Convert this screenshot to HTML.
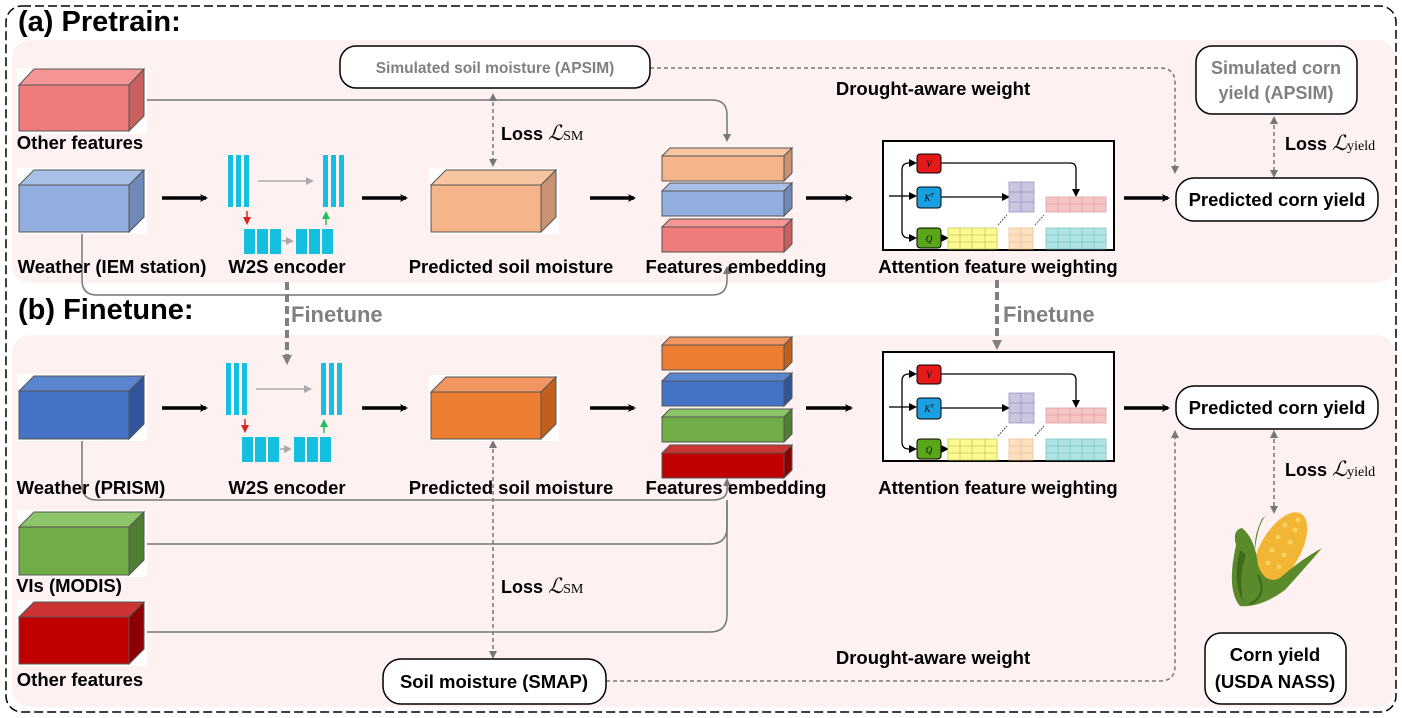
<!DOCTYPE html>
<html><head><meta charset="utf-8"><style>
body{margin:0;background:#fff}
svg{display:block;font-family:"Liberation Sans",sans-serif}
.l{font-weight:bold;font-size:18.5px;fill:#000;text-anchor:middle}
</style></head><body>
<svg width="1402" height="718" viewBox="0 0 1402 718">
<defs>
<marker id="ab" markerWidth="8" markerHeight="8" refX="6" refY="4" orient="auto" markerUnits="userSpaceOnUse"><path d="M0,0L8,4L0,8L2,4z" fill="#000"/></marker>
<marker id="ag" markerWidth="8" markerHeight="8" refX="6" refY="4" orient="auto-start-reverse" markerUnits="userSpaceOnUse"><path d="M0,0L8,4L0,8z" fill="#777"/></marker>
<marker id="ak" markerWidth="8" markerHeight="8" refX="6" refY="4" orient="auto" markerUnits="userSpaceOnUse"><path d="M0,0L8,4L0,8z" fill="#000"/></marker>
<marker id="ar" markerWidth="8" markerHeight="8" refX="6" refY="4" orient="auto" markerUnits="userSpaceOnUse"><path d="M0,0L8,4L0,8z" fill="#e02020"/></marker>
<marker id="agr" markerWidth="8" markerHeight="8" refX="6" refY="4" orient="auto" markerUnits="userSpaceOnUse"><path d="M0,0L8,4L0,8z" fill="#20c060"/></marker>
<marker id="agy" markerWidth="8" markerHeight="8" refX="6" refY="4" orient="auto" markerUnits="userSpaceOnUse"><path d="M0,0L8,4L0,8z" fill="#aaa"/></marker>
<marker id="af" markerWidth="10" markerHeight="10" refX="5" refY="5" orient="auto" markerUnits="userSpaceOnUse"><path d="M0,0L10,5L0,10z" fill="#808080"/></marker>
</defs>
<rect x="6" y="6" width="1390" height="706" rx="16" fill="#fff" stroke="#000" stroke-width="1.5" stroke-dasharray="9,4"/>
<rect x="12" y="40" width="1383" height="243" rx="18" fill="#fdf1f1"/>
<rect x="12" y="335" width="1383" height="372" rx="18" fill="#fdf1f1"/>
<text x="18" y="31" font-size="29" font-weight="bold">(a) Pretrain:</text>
<text x="18" y="319" font-size="29" font-weight="bold">(b) Finetune:</text>

<g fill="none" stroke="#777" stroke-width="1.5">
<path d="M145,100H712Q727,100 727,115V140" marker-end="url(#ag)"/>
<path d="M82,233V280Q82,295 97,295H712Q727,295 727,280V268" marker-end="url(#ag)"/>
<path d="M82,440V485Q82,500 97,500H712Q727,500 727,490V480" marker-end="url(#ag)"/>
<path d="M145,544H710Q727,544 727,527V500"/>
<path d="M145,632H710Q727,632 727,615V500"/>
</g>
<g fill="none" stroke="#777" stroke-width="1.5" stroke-dasharray="4,3">
<path d="M650,68H1160Q1175,68 1175,83V172" marker-end="url(#ag)"/>
<path d="M493,95V165" marker-start="url(#ag)" marker-end="url(#ag)"/>
<path d="M1274,118V176" marker-start="url(#ag)" marker-end="url(#ag)"/>
<path d="M606,681H1160Q1175,681 1175,666V432" marker-end="url(#ag)"/>
<path d="M493,442V657" marker-start="url(#ag)" marker-end="url(#ag)"/>
<path d="M1274,432V512" marker-start="url(#ag)" marker-end="url(#ag)"/>
</g>
<g stroke="#808080" stroke-width="4" stroke-dasharray="8,4" fill="none">
<path d="M287,282V360" marker-end="url(#af)"/>
<path d="M997,280V345" marker-end="url(#af)"/>
</g>
<text x="291" y="322" font-size="22" font-weight="bold" fill="#808080">Finetune</text>
<text x="1003" y="322" font-size="22" font-weight="bold" fill="#808080">Finetune</text>

<g stroke="#000" stroke-width="3.5" marker-end="url(#ab)">
<line x1="162" y1="198" x2="206" y2="198"/><line x1="362" y1="198" x2="406" y2="198"/><line x1="590" y1="198" x2="634" y2="198"/><line x1="806" y1="198" x2="851" y2="198"/><line x1="1124" y1="198" x2="1168" y2="198"/>
<line x1="162" y1="408" x2="206" y2="408"/><line x1="362" y1="408" x2="406" y2="408"/><line x1="590" y1="408" x2="634" y2="408"/><line x1="806" y1="408" x2="851" y2="408"/><line x1="1124" y1="408" x2="1168" y2="408"/>
</g>

<g stroke="#555" stroke-width="1">
<rect x="17" y="68" width="130" height="66" fill="#fff" stroke="none"/>
<polygon points="19,85 34,69 144,69 129,85" fill="#f59595"/><polygon points="129,85 144,69 144,116 129,131" fill="#c86060"/><rect x="19" y="85" width="110" height="46" fill="#f07b7b"/>
<rect x="17" y="168" width="130" height="66" fill="#fff" stroke="none"/>
<polygon points="19,185 34,170 144,170 129,185" fill="#a9c0e6"/><polygon points="129,185 144,170 144,217 129,232" fill="#7089b8"/><rect x="19" y="185" width="110" height="47" fill="#92aede"/>
<rect x="429" y="168" width="130" height="66" fill="#fff" stroke="none"/>
<polygon points="431,185 446,170 556,170 541,185" fill="#f7c5a0"/><polygon points="541,185 556,170 556,217 541,232" fill="#c99272"/><rect x="431" y="185" width="110" height="47" fill="#f5b48a"/>
<rect x="17" y="374" width="130" height="67" fill="#fff" stroke="none"/>
<polygon points="19,391 34,376 144,376 129,391" fill="#5b84cf"/><polygon points="129,391 144,376 144,424 129,439" fill="#30559a"/><rect x="19" y="391" width="110" height="48" fill="#4472c4"/>
<rect x="429" y="375" width="130" height="66" fill="#fff" stroke="none"/>
<polygon points="431,392 446,377 556,377 541,392" fill="#f19660"/><polygon points="541,392 556,377 556,424 541,439" fill="#c0601f"/><rect x="431" y="392" width="110" height="47" fill="#ed7d31"/>
<rect x="17" y="510" width="130" height="67" fill="#fff" stroke="none"/>
<polygon points="19,527 34,512 144,512 129,527" fill="#8cc46a"/><polygon points="129,527 144,512 144,560 129,575" fill="#507e32"/><rect x="19" y="527" width="110" height="48" fill="#70ad47"/>
<rect x="17" y="600" width="130" height="66" fill="#fff" stroke="none"/>
<polygon points="19,617 34,602 144,602 129,617" fill="#cc3333"/><polygon points="129,617 144,602 144,649 129,664" fill="#8b0000"/><rect x="19" y="617" width="110" height="47" fill="#c00000"/>
<polygon points="662,156 670,148 792,148 784,156" fill="#f7c5a0"/><polygon points="784,156 792,148 792,173 784,181" fill="#c99272"/><rect x="662" y="156" width="122" height="25" fill="#f5b48a"/>
<polygon points="662,191 670,183 792,183 784,191" fill="#a9c0e6"/><polygon points="784,191 792,183 792,208 784,216" fill="#7089b8"/><rect x="662" y="191" width="122" height="25" fill="#92aede"/>
<polygon points="662,227 670,219 792,219 784,227" fill="#f59595"/><polygon points="784,227 792,219 792,244 784,252" fill="#c86060"/><rect x="662" y="227" width="122" height="25" fill="#f07b7b"/>
<polygon points="662,345 670,337 792,337 784,345" fill="#f19660"/><polygon points="784,345 792,337 792,362 784,370" fill="#c0601f"/><rect x="662" y="345" width="122" height="25" fill="#ed7d31"/>
<polygon points="662,381 670,373 792,373 784,381" fill="#5b84cf"/><polygon points="784,381 792,373 792,398 784,406" fill="#30559a"/><rect x="662" y="381" width="122" height="25" fill="#4472c4"/>
<polygon points="662,417 670,409 792,409 784,417" fill="#8cc46a"/><polygon points="784,417 792,409 792,434 784,442" fill="#507e32"/><rect x="662" y="417" width="122" height="25" fill="#70ad47"/>
<polygon points="662,453 670,445 792,445 784,453" fill="#cc3333"/><polygon points="784,453 792,445 792,470 784,478" fill="#8b0000"/><rect x="662" y="453" width="122" height="25" fill="#c00000"/>
</g>

<g id="enc">
<rect x="228" y="155" width="5" height="52" fill="#14bfe0"/><rect x="236" y="155" width="5" height="52" fill="#14bfe0"/><rect x="244" y="155" width="5" height="52" fill="#14bfe0"/>
<rect x="323" y="155" width="5" height="52" fill="#14bfe0"/><rect x="331" y="155" width="5" height="52" fill="#14bfe0"/><rect x="339" y="155" width="5" height="52" fill="#14bfe0"/>
<rect x="244" y="229" width="11" height="25" fill="#14bfe0"/><rect x="257" y="229" width="11" height="25" fill="#14bfe0"/><rect x="270" y="229" width="11" height="25" fill="#14bfe0"/>
<rect x="296" y="229" width="11" height="25" fill="#14bfe0"/><rect x="309" y="229" width="11" height="25" fill="#14bfe0"/><rect x="322" y="229" width="11" height="25" fill="#14bfe0"/>
<line x1="258" y1="181" x2="312" y2="181" stroke="#aaa" stroke-width="1.5" marker-end="url(#agy)"/>
<line x1="282" y1="241" x2="292" y2="241" stroke="#aaa" stroke-width="1.5" marker-end="url(#agy)"/>
<line x1="247" y1="211" x2="247" y2="223" stroke="#e02020" stroke-width="1.5" marker-end="url(#ar)"/>
<line x1="326" y1="225" x2="326" y2="213" stroke="#20c060" stroke-width="1.5" marker-end="url(#agr)"/>
</g>
<use href="#enc" transform="translate(-2,208)"/>

<g id="att">
<rect x="883" y="141" width="231" height="109" fill="#fff" stroke="#000" stroke-width="2"/>
<g fill="none" stroke="#000" stroke-width="1.3">
<line x1="889" y1="196" x2="902" y2="196"/>
<path d="M902,196V170Q902,163 909,163H915" marker-end="url(#ak)"/>
<path d="M902,196H915" marker-end="url(#ak)"/>
<path d="M902,196V231Q902,238 909,238H915" marker-end="url(#ak)"/>
<path d="M941,163H1070Q1076,163 1076,169V195" marker-end="url(#ak)"/>
<path d="M941,197H1008" marker-end="url(#ak)"/>
<path d="M941,238H947" marker-end="url(#ak)"/>
</g>
<rect x="917" y="154" width="24" height="19" rx="3" fill="#e41a1a" stroke="#000"/><text x="929" y="167" font-size="9" font-style="italic" text-anchor="middle" font-family="Liberation Serif">V</text>
<rect x="917" y="187" width="24" height="21" rx="3" fill="#1aa0e0" stroke="#000"/><text x="929" y="201" font-size="9" font-style="italic" text-anchor="middle" font-family="Liberation Serif">K<tspan font-size="6" dy="-4">T</tspan></text>
<rect x="917" y="228" width="24" height="20" rx="3" fill="#5aa61a" stroke="#000"/><text x="929" y="242" font-size="9" font-style="italic" text-anchor="middle" font-family="Liberation Serif">Q</text>
<rect x="1009" y="182" width="25" height="30" fill="#c8c6e0" stroke="#9996c0" stroke-width=".8"/>
<path d="M1021,182V212M1009,192H1034M1009,202H1034" stroke="#9996c0" stroke-width=".8"/>
<rect x="1046" y="197" width="60" height="15" fill="#f6c4c4" stroke="#e0a0a0" stroke-width=".8"/>
<path d="M1058,197V212M1070,197V212M1082,197V212M1094,197V212M1046,204H1106" stroke="#e0a0a0" stroke-width=".8"/>
<rect x="948" y="228" width="49" height="21" fill="#fafa90" stroke="#c8c860" stroke-width=".8"/>
<path d="M960,228V249M972,228V249M985,228V249M948,235H997M948,242H997" stroke="#c8c860" stroke-width=".8"/>
<rect x="1009" y="228" width="24" height="21" fill="#fde0c0" stroke="#e8c090" stroke-width=".8"/>
<path d="M1021,228V249M1009,235H1033M1009,242H1033" stroke="#e8c090" stroke-width=".8"/>
<rect x="1046" y="228" width="60" height="21" fill="#b0e4e4" stroke="#80c4c4" stroke-width=".8"/>
<path d="M1058,228V249M1070,228V249M1082,228V249M1094,228V249M1046,235H1106M1046,242H1106" stroke="#80c4c4" stroke-width=".8"/>
<path d="M998,225L1007,215M1035,225L1044,215" stroke="#333" stroke-width=".8" stroke-dasharray="2,1"/>
</g>
<use href="#att" transform="translate(0,211)"/>

<g fill="#fff" stroke="#000" stroke-width="1.5">
<rect x="340" y="46" width="310" height="42" rx="16"/>
<rect x="1196" y="46" width="161" height="68" rx="16"/>
<rect x="1176" y="178" width="202" height="43" rx="18"/>
<rect x="1176" y="386" width="202" height="43" rx="18"/>
<rect x="383" y="659" width="223" height="45" rx="18"/>
<rect x="1205" y="633" width="141" height="71" rx="16"/>
</g>
<text x="495" y="73" font-size="15.5" font-weight="bold" fill="#808080" text-anchor="middle">Simulated soil moisture (APSIM)</text>
<text x="1276" y="74" font-size="18" font-weight="bold" fill="#808080" text-anchor="middle">Simulated corn</text>
<text x="1276" y="99" font-size="18" font-weight="bold" fill="#808080" text-anchor="middle">yield (APSIM)</text>
<text x="1277" y="206" class="l">Predicted corn yield</text>
<text x="1277" y="414" class="l">Predicted corn yield</text>
<text x="494" y="688" class="l">Soil moisture (SMAP)</text>
<text x="1275" y="661" class="l">Corn yield</text>
<text x="1275" y="688" class="l">(USDA NASS)</text>

<text x="80" y="149" class="l">Other features</text>
<text x="112" y="273" class="l">Weather (IEM station)</text>
<text x="287" y="273" class="l">W2S encoder</text>
<text x="511" y="273" class="l">Predicted soil moisture</text>
<text x="736" y="273" class="l">Features embedding</text>
<text x="998" y="273" class="l">Attention feature weighting</text>
<text x="91" y="494" class="l">Weather (PRISM)</text>
<text x="287" y="494" class="l">W2S encoder</text>
<text x="511" y="494" class="l">Predicted soil moisture</text>
<text x="736" y="494" class="l">Features embedding</text>
<text x="998" y="494" class="l">Attention feature weighting</text>
<text x="69" y="592" class="l">VIs (MODIS)</text>
<text x="80" y="686" class="l">Other features</text>
<text x="933" y="95" class="l">Drought-aware weight</text>
<text x="933" y="664" class="l">Drought-aware weight</text>
<text x="501" y="140" font-size="18" font-weight="bold">Loss <tspan font-family="Liberation Serif" font-style="italic" font-weight="normal" font-size="21">ℒ</tspan><tspan font-family="Liberation Serif" font-weight="normal" font-size="14">SM</tspan></text>
<text x="501" y="593" font-size="18" font-weight="bold">Loss <tspan font-family="Liberation Serif" font-style="italic" font-weight="normal" font-size="21">ℒ</tspan><tspan font-family="Liberation Serif" font-weight="normal" font-size="14">SM</tspan></text>
<text x="1285" y="150" font-size="18" font-weight="bold">Loss <tspan font-family="Liberation Serif" font-style="italic" font-weight="normal" font-size="21">ℒ</tspan><tspan font-family="Liberation Serif" font-weight="normal" font-size="14">yield</tspan></text>
<text x="1285" y="476" font-size="18" font-weight="bold">Loss <tspan font-family="Liberation Serif" font-style="italic" font-weight="normal" font-size="21">ℒ</tspan><tspan font-family="Liberation Serif" font-weight="normal" font-size="14">yield</tspan></text>

<!-- corn -->
<g>
<path d="M1262,519Q1254,535 1255,550Q1258,520 1269,513Z" fill="#4f7d22"/>
<ellipse cx="1280" cy="550" rx="20" ry="42" transform="rotate(30 1280 550)" fill="#f2b634"/>
<g fill="#fad869" opacity=".85">
<circle cx="1285" cy="525" r="2.5"/><circle cx="1295" cy="530" r="2.5"/><circle cx="1278" cy="537" r="2.5"/><circle cx="1290" cy="542" r="2.5"/><circle cx="1272" cy="550" r="2.5"/><circle cx="1284" cy="555" r="2.5"/><circle cx="1268" cy="563" r="2.5"/><circle cx="1279" cy="567" r="2.5"/><circle cx="1298" cy="520" r="2.5"/>
</g>
<path d="M1236,545Q1232,530 1242,528Q1255,538 1258,565Q1265,585 1280,578Q1300,560 1322,548Q1305,568 1285,590Q1260,608 1240,606Q1226,590 1236,545Z" fill="#5b8a2a"/>
<path d="M1240,550Q1232,580 1243,602Q1238,575 1246,555Z" fill="#3e6a18"/>
<path d="M1258,575Q1268,595 1250,604" stroke="#3e6a18" stroke-width="2" fill="none"/>
</g>
</svg>
</body></html>
